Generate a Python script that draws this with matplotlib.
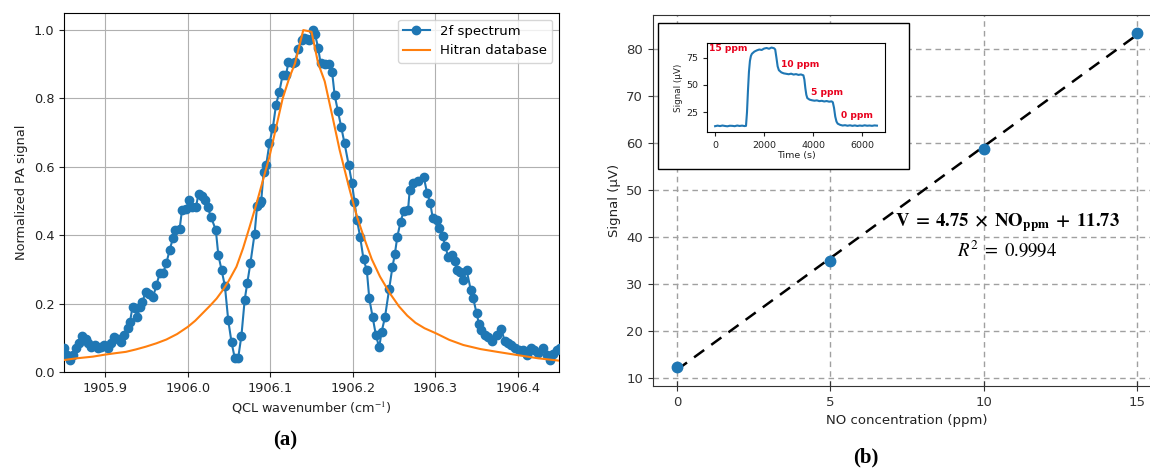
import matplotlib
matplotlib.use('Agg')
import matplotlib.pyplot as plt
from matplotlib.patches import Rectangle

# ---------------- Panel (a) data ----------------
wavenumber = [
    1905.850, 1905.854, 1905.857, 1905.861, 1905.865, 1905.868, 1905.872, 1905.876,
    1905.879, 1905.883, 1905.887, 1905.891, 1905.895, 1905.899, 1905.903, 1905.907,
    1905.911, 1905.915, 1905.919, 1905.923, 1905.927, 1905.930, 1905.933, 1905.936,
    1905.939, 1905.942, 1905.945, 1905.949, 1905.953, 1905.958, 1905.962, 1905.966,
    1905.970, 1905.974, 1905.978, 1905.982, 1905.985, 1905.990, 1905.993, 1905.998,
    1906.001, 1906.005, 1906.010, 1906.013, 1906.017, 1906.021, 1906.024, 1906.028,
    1906.034, 1906.037, 1906.041, 1906.045, 1906.049, 1906.053, 1906.057, 1906.061,
    1906.065, 1906.069, 1906.072, 1906.076, 1906.081, 1906.084, 1906.087, 1906.089,
    1906.092, 1906.095, 1906.099, 1906.103, 1906.107, 1906.111, 1906.115, 1906.119,
    1906.122, 1906.127, 1906.130, 1906.134, 1906.138, 1906.141, 1906.144, 1906.147,
    1906.152, 1906.154, 1906.158, 1906.161, 1906.166, 1906.171, 1906.175, 1906.178,
    1906.182, 1906.186, 1906.190, 1906.195, 1906.199, 1906.202,
    1906.205, 1906.209, 1906.213, 1906.217, 1906.220, 1906.224, 1906.228, 1906.232,
    1906.235, 1906.239, 1906.244, 1906.248, 1906.251, 1906.254, 1906.258, 1906.262,
    1906.267, 1906.269, 1906.273, 1906.279, 1906.286, 1906.290, 1906.294, 1906.297,
    1906.302, 1906.305, 1906.309, 1906.312, 1906.316, 1906.320, 1906.324, 1906.326,
    1906.330, 1906.334, 1906.338, 1906.343, 1906.346, 1906.350, 1906.353, 1906.356,
    1906.360, 1906.364, 1906.369, 1906.375, 1906.380, 1906.384, 1906.388, 1906.392,
    1906.397, 1906.402, 1906.406, 1906.411, 1906.416, 1906.420, 1906.425, 1906.430,
    1906.435, 1906.439, 1906.443, 1906.448, 1906.451,
]
pa_signal = [
    0.069, 0.050, 0.035, 0.050, 0.069, 0.086, 0.105, 0.098,
    0.084, 0.074, 0.079, 0.069, 0.074, 0.079, 0.069, 0.084,
    0.103, 0.098, 0.089, 0.108, 0.128, 0.147, 0.191, 0.186,
    0.162, 0.191, 0.206, 0.235, 0.229, 0.220, 0.254, 0.289,
    0.289, 0.318, 0.357, 0.391, 0.415, 0.417, 0.474, 0.476,
    0.503, 0.483, 0.483, 0.522, 0.515, 0.503, 0.483, 0.454,
    0.415, 0.342, 0.298, 0.251, 0.152, 0.087, 0.040, 0.040,
    0.106, 0.212, 0.259, 0.320, 0.405, 0.485, 0.495, 0.501,
    0.586, 0.605, 0.669, 0.713, 0.782, 0.820, 0.869, 0.868,
    0.906, 0.905, 0.907, 0.946, 0.971, 0.976, 0.975, 0.970,
    1.000, 0.990, 0.948, 0.903, 0.900, 0.900, 0.876, 0.810,
    0.763, 0.717, 0.669, 0.606, 0.552, 0.498,
    0.446, 0.394, 0.330, 0.298, 0.215, 0.162, 0.108, 0.072,
    0.118, 0.160, 0.242, 0.306, 0.345, 0.396, 0.440, 0.472,
    0.474, 0.532, 0.553, 0.560, 0.571, 0.524, 0.493, 0.449,
    0.444, 0.420, 0.398, 0.368, 0.335, 0.342, 0.324, 0.298,
    0.293, 0.269, 0.298, 0.240, 0.215, 0.173, 0.140, 0.123,
    0.108, 0.103, 0.091, 0.108, 0.127, 0.091, 0.084, 0.079,
    0.069, 0.064, 0.064, 0.049, 0.069, 0.064, 0.056, 0.069,
    0.049, 0.035, 0.054, 0.064, 0.069,
]
hitran_x = [
    1905.850, 1905.865, 1905.885, 1905.900, 1905.912, 1905.925, 1905.937, 1905.949,
    1905.962, 1905.974, 1905.987, 1906.000, 1906.009, 1906.018, 1906.027, 1906.035,
    1906.042, 1906.049, 1906.059, 1906.067, 1906.075, 1906.083, 1906.091, 1906.099,
    1906.107, 1906.115, 1906.123, 1906.130, 1906.140, 1906.150, 1906.158, 1906.166,
    1906.176, 1906.184, 1906.196, 1906.205, 1906.214, 1906.223, 1906.233, 1906.245,
    1906.256, 1906.266, 1906.276, 1906.287, 1906.301, 1906.317, 1906.334, 1906.355,
    1906.375, 1906.401, 1906.425, 1906.451,
]
hitran_y = [
    0.035, 0.040, 0.045, 0.051, 0.055, 0.059, 0.066, 0.074,
    0.084, 0.095, 0.111, 0.132, 0.150, 0.172, 0.194, 0.215,
    0.238, 0.264, 0.308, 0.362, 0.425, 0.490, 0.560, 0.630,
    0.715, 0.800, 0.860, 0.903, 1.000, 0.995, 0.903, 0.850,
    0.740, 0.650, 0.535, 0.455, 0.390, 0.330, 0.279, 0.230,
    0.192, 0.165, 0.144, 0.128, 0.113, 0.094, 0.079, 0.067,
    0.059, 0.049, 0.040, 0.033,
]

# ---------------- Panel (b) data ----------------
conc_ppm = [0, 5, 10, 15]
signal_uv = [12.3, 34.8, 58.6, 83.4]
fit_slope = 4.75
fit_intercept = 11.73
fit_range = [0, 15]

time_s = [
    0, 100, 200, 300, 400, 500, 600, 700, 800, 900, 1000, 1100, 1200, 1260,
    1300, 1340, 1380, 1420, 1460, 1500, 1600, 1700, 1800, 1900, 2000, 2100,
    2200, 2300, 2400, 2450, 2500, 2550, 2600, 2700, 2800, 2900, 3000, 3100,
    3200, 3300, 3400, 3500, 3600, 3640, 3680, 3720, 3760, 3850, 3950, 4050,
    4150, 4250, 4350, 4450, 4550, 4650, 4750, 4800, 4850, 4900, 4950, 5000,
    5100, 5200, 5300, 5400, 5500, 5600, 5700, 5800, 5900, 6000, 6100, 6200,
    6300, 6400, 6500, 6600,
]
trace_uv = [
    12.3, 12.8, 12.4, 12.9, 12.5, 12.2, 12.7, 12.6, 12.3, 12.9, 12.5, 12.8, 12.4, 12.6,
    25.0, 45.0, 62.0, 72.0, 76.5, 78.5, 80.5, 81.6, 82.4, 82.0, 83.3, 83.8,
    83.1, 84.2, 83.6, 82.5, 75.0, 67.0, 63.5, 61.5, 60.6, 60.2, 59.8, 60.3,
    59.5, 59.9, 59.2, 59.6, 58.8, 55.0, 47.0, 41.0, 38.0, 36.6, 36.0, 35.6,
    35.9, 35.2, 35.5, 34.9, 35.3, 34.7, 35.0, 34.2, 29.0, 21.0, 16.5, 14.6,
    13.5, 12.9, 13.2, 12.7, 13.1, 12.6, 13.0, 12.5, 12.9, 12.6, 13.1, 12.7,
    12.9, 12.6, 13.0, 12.8,
]
step_labels = ['15 ppm', '10 ppm', '5 ppm', '0 ppm']
step_label_t = [-250, 2670, 3900, 5140]
step_label_v = [83.0, 68.3, 43.4, 21.7]

# ---------------- Figure ----------------
plt.rcParams['font.family'] = ['DejaVu Sans']
plt.rcParams['mathtext.fontset'] = 'stix'
fig = plt.figure(figsize=(11.5, 4.69), dpi=100)

blue = '#1f77b4'
orange = '#ff7f0e'

# Panel (a)
ax1 = fig.add_axes([0.0557, 0.2068, 0.4304, 0.7655])
ax1.plot(wavenumber, pa_signal, '-o', color=blue, lw=1.5, ms=6, label='2f spectrum', zorder=3)
ax1.plot(hitran_x, hitran_y, '-', color=orange, lw=1.5, label='Hitran database', zorder=4)
ax1.set_xlim(1905.85, 1906.45)
ax1.set_ylim(0, 1.05)
ax1.set_xticks([1905.9, 1906.0, 1906.1, 1906.2, 1906.3, 1906.4])
ax1.set_xticklabels(['1905.9', '1906.0', '1906.1', '1906.2', '1906.3', '1906.4'])
ax1.set_yticks([0.0, 0.2, 0.4, 0.6, 0.8, 1.0])
ax1.grid(True, color='#b0b0b0', lw=0.8)
ax1.set_axisbelow(True)
ax1.tick_params(labelsize=9.3, colors='#222222')
ax1.set_xlabel('QCL wavenumber (cm$^{-1}$)', fontsize=9.3, color='#222222')
ax1.set_ylabel('Normalized PA signal', fontsize=9.3, color='#222222')
ax1.legend(loc='upper right', fontsize=9.5)

# Panel (b)
ax2 = fig.add_axes([0.5678, 0.177, 0.4409, 0.791])
ax2.grid(True, color='#a0a0a0', lw=1.0, ls=(0, (4, 3)))
ax2.set_axisbelow(True)
fx = fit_range
fy = [fit_slope * v + fit_intercept for v in fit_range]
ax2.plot(fx, fy, color='black', lw=1.8, ls=(0, (5, 3.5)), zorder=3)
ax2.plot(conc_ppm, signal_uv, 'o', color=blue, ms=7.5, zorder=4)
ax2.set_xlim(-0.78, 15.75)
ax2.set_ylim(8.3, 87.2)
ax2.set_xticks([0, 5, 10, 15])
ax2.set_yticks([10, 20, 30, 40, 50, 60, 70, 80])
ax2.tick_params(labelsize=9.5, colors='#333333')
ax2.tick_params(axis='x', direction='inout', length=7)
for s in ax2.spines.values():
    s.set_color('#333333')
ax2.set_xlabel('NO concentration (ppm)', fontsize=9.5, color='#222222')
ax2.set_ylabel('Signal (μV)', fontsize=9.5, color='#222222')
ax2.text(10.76, 43.0, r'$\mathbf{V\;=\;4.75\;\times\;NO_{ppm}\;+\;11.73}$',
         fontsize=13.5, ha='center', va='center', zorder=5)
ax2.text(10.76, 37.2, r'$R^2\;=\;0.9994$', fontsize=13.5, ha='center', va='center', zorder=5)

# Inset frame
frame = Rectangle((0.5722, 0.6397), 0.2183, 0.3113, transform=fig.transFigure,
                  facecolor='white', edgecolor='black', lw=1.0, zorder=5)
fig.patches.append(frame)

axi = fig.add_axes([0.6148, 0.7186, 0.1548, 0.1898])
axi.set_zorder(6)
axi.plot(time_s, trace_uv, color=blue, lw=1.5)
axi.set_xlim(-330, 6930)
axi.set_ylim(7, 88.4)
axi.set_xticks([0, 2000, 4000, 6000])
axi.set_yticks([25, 50, 75])
axi.tick_params(labelsize=6.8, length=3, colors='#222222')
axi.set_xlabel('Time (s)', fontsize=6.8, labelpad=1, color='#222222')
axi.set_ylabel('Signal (μV)', fontsize=6.3, labelpad=2, color='#222222')
for lab, t, v in zip(step_labels, step_label_t, step_label_v):
    axi.text(t, v, lab, color='#e8001c', fontsize=6.6, fontweight='bold', ha='left', va='center')

# Panel labels
fig.text(0.2478, 0.0618, '(a)', fontsize=15, fontweight='bold', family='Liberation Serif',
         ha='center', va='center')
fig.text(0.7530, 0.0235, '(b)', fontsize=15, fontweight='bold', family='Liberation Serif',
         ha='center', va='center')

fig.savefig('out.png', dpi=100)
